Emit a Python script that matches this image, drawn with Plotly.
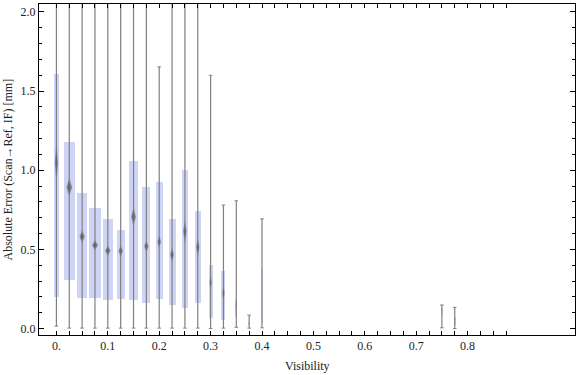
import plotly.graph_objects as go

# ---- data ----
visibility = [0.0, 0.025, 0.05, 0.075, 0.1, 0.125, 0.15, 0.175, 0.2, 0.225,
              0.25, 0.275, 0.3, 0.325, 0.35, 0.375, 0.4, 0.75, 0.775]
whisker_low = [0.016, 0.003, 0.003, 0.003, 0.003, 0.003, 0.003, 0.003, 0.003, 0.003,
               0.003, 0.003, 0.0, 0.003, 0.008, 0.003, 0.005, 0.005, 0.0]
q1 = [0.197, 0.31, 0.195, 0.195, 0.182, 0.189, 0.182, 0.163, 0.185, 0.151,
      0.132, 0.163, 0.068, 0.056, 0.075, 0.022, 0.037, 0.085, 0.022]
median = [1.047, 0.892, 0.581, 0.527, 0.492, 0.49, 0.706, 0.52, 0.549, 0.467,
          0.613, 0.513, 0.291, 0.223, 0.144, 0.03, 0.2, 0.1, 0.05]
q3 = [1.61, 1.176, 0.855, 0.76, 0.693, 0.623, 1.06, 0.897, 0.927, 0.693,
      1.003, 0.744, 0.402, 0.364, 0.19, 0.043, 0.38, 0.128, 0.075]
whisker_high = [3.0, 3.0, 3.0, 3.0, 3.0, 3.0, 3.0, 3.0, 1.653, 3.0,
                3.0, 3.0, 1.60, 0.78, 0.807, 0.085, 0.693, 0.149, 0.134]
median_ci = [0.14, 0.06, 0.042, 0.034, 0.033, 0.039, 0.061, 0.04, 0.042, 0.05,
             0.074, 0.068, 0.058, 0.063, 0.047, 0.01, 0.03, 0.01, 0.01]
box_width = [0.011, 0.021, 0.0195, 0.022, 0.020, 0.016, 0.0175, 0.0156, 0.013, 0.0136,
             0.013, 0.0117, 0.0078, 0.0078, 0.004, 0.002, 0.002, 0.002, 0.002]

x_tick_vals = [i * 0.025 for i in range(36)]
x_tick_labels = {0: "0.", 4: "0.1", 8: "0.2", 12: "0.3", 16: "0.4",
                 20: "0.5", 24: "0.6", 28: "0.7", 32: "0.8"}
y_tick_vals = [0.0, 0.5, 1.0, 1.5, 2.0]
y_tick_text = ["0.0", "0.5", "1.0", "1.5", "2.0"]

# ---- styles ----
BOX_COLOR = "#cdd4f5"
WHISKER_COLOR = "#808080"
FONT = "Liberation Serif"
CAP_HALF = 0.0035

fig = go.Figure()

# whiskers
wx, wy = [], []
for x, lo, hi in zip(visibility, whisker_low, whisker_high):
    wx += [x, x, None]
    wy += [lo, hi, None]
fig.add_trace(go.Scatter(x=wx, y=wy, mode="lines",
                         line=dict(color=WHISKER_COLOR, width=1.2),
                         hoverinfo="skip", showlegend=False))

# caps
cx, cy = [], []
for x, lo, hi in zip(visibility, whisker_low, whisker_high):
    cx += [x - CAP_HALF, x + CAP_HALF, None]
    cy += [lo, lo, None]
    cx += [x - CAP_HALF, x + CAP_HALF, None]
    cy += [hi, hi, None]
fig.add_trace(go.Scatter(x=cx, y=cy, mode="lines",
                         line=dict(color=WHISKER_COLOR, width=1),
                         hoverinfo="skip", showlegend=False))

# boxes
fig.add_trace(go.Bar(x=visibility, y=[b - a for a, b in zip(q1, q3)], base=q1,
                     width=box_width, marker=dict(color=BOX_COLOR, line=dict(width=0)),
                     hoverinfo="skip", showlegend=False))

# median diamonds (outer, inner darker)
def diamonds(scale):
    dx, dy = [], []
    for x, m, h, w in zip(visibility, median, median_ci, box_width):
        hh = h * scale
        ww = w * 0.27 * scale
        dx += [x, x + ww, x, x - ww, x, None]
        dy += [m + hh, m, m - hh, m, m + hh, None]
    return dx, dy

for scale, col in [(1.0, "rgba(125,125,130,0.75)"), (0.6, "rgba(100,100,100,0.9)")]:
    dx, dy = diamonds(scale)
    fig.add_trace(go.Scatter(x=dx, y=dy, mode="lines", fill="toself",
                             fillcolor=col, line=dict(width=0, color=col),
                             hoverinfo="skip", showlegend=False))

fig.update_layout(
    width=576, height=375,
    margin=dict(l=39, r=1, t=4, b=40, autoexpand=False),
    paper_bgcolor="white", plot_bgcolor="white",
    bargap=0, barmode="overlay",
    font=dict(family=FONT, size=12, color="#222222"),
    showlegend=False,
)
fig.update_xaxes(
    range=[-0.0339, 1.009], showgrid=False, zeroline=False, automargin=False,
    showline=True, linecolor="black", linewidth=1, mirror="allticks",
    ticks="inside", ticklen=4, tickcolor="black", tickwidth=1,
    tickvals=x_tick_vals,
    ticktext=[x_tick_labels.get(i, "") for i in range(len(x_tick_vals))],
    tickfont=dict(family=FONT, size=12, color="#222222"),
)
fig.update_yaxes(
    range=[-0.0405, 2.05], showgrid=False, zeroline=False, automargin=False,
    showline=True, linecolor="black", linewidth=1, mirror="allticks",
    ticks="inside", ticklen=5, tickcolor="black", tickwidth=1,
    tickvals=y_tick_vals, ticktext=y_tick_text,
    minor=dict(dtick=0.1, ticks="inside", ticklen=3, tickcolor="black", showgrid=False),
    tickfont=dict(family=FONT, size=12, color="#222222"),
)

fig.add_annotation(text="Visibility", xref="paper", yref="paper",
                   x=0.5, y=0, yanchor="middle", yshift=-31, showarrow=False,
                   font=dict(family=FONT, size=12, color="#222222"))
fig.add_annotation(text="Absolute Error (Scan\u2192Ref, IF) [mm]", xref="paper", yref="paper",
                   x=0, y=0.5, xanchor="center", yanchor="middle", xshift=-32,
                   textangle=-90, showarrow=False,
                   font=dict(family=FONT, size=12, color="#222222"))

fig.write_html("out.html", config={"displayModeBar": False},
               post_script="document.body.style.margin='0';document.body.style.overflow='hidden';")
